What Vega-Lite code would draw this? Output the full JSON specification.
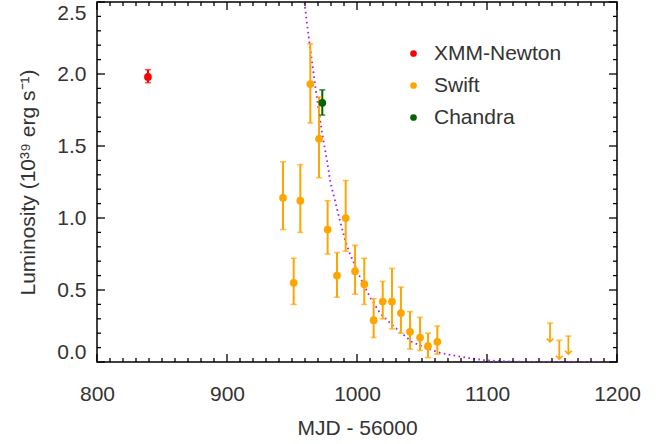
{
  "$schema": "https://vega.github.io/schema/vega-lite/v6.json",
  "width": 520,
  "height": 360,
  "autosize": {"type": "none"},
  "padding": {"left": 97, "top": 2, "right": 51, "bottom": 82},
  "background": "white",
  "config": {
    "view": {"stroke": "black", "strokeWidth": 1.5},
    "font": "Liberation Sans",
    "axis": {"grid": false, "domain": false, "tickOpacity": 0, "labelColor": "#333", "titleColor": "#333", "labelFont": "Liberation Sans", "titleFont": "Liberation Sans", "labelFontSize": 21, "titleFontSize": 21, "titleFontWeight": "normal", "labelOverlap": false}
  },
  "datasets": {
    "obs": [
      {"inst": "XMM-Newton", "t": 839.2, "L": 1.98, "lo": 1.94, "hi": 2.03},
      {"inst": "Chandra", "t": 973.3, "L": 1.80, "lo": 1.715, "hi": 1.89},
      {"inst": "Swift", "t": 943.1, "L": 1.14, "lo": 0.92, "hi": 1.39},
      {"inst": "Swift", "t": 951.3, "L": 0.55, "lo": 0.40, "hi": 0.72},
      {"inst": "Swift", "t": 956.4, "L": 1.12, "lo": 0.90, "hi": 1.37},
      {"inst": "Swift", "t": 964.1, "L": 1.93, "lo": 1.66, "hi": 2.21},
      {"inst": "Swift", "t": 970.8, "L": 1.55, "lo": 1.28, "hi": 1.84},
      {"inst": "Swift", "t": 977.4, "L": 0.92, "lo": 0.75, "hi": 1.12},
      {"inst": "Swift", "t": 984.6, "L": 0.60, "lo": 0.45, "hi": 0.76},
      {"inst": "Swift", "t": 991.3, "L": 1.00, "lo": 0.77, "hi": 1.26},
      {"inst": "Swift", "t": 998.5, "L": 0.63, "lo": 0.47, "hi": 0.81},
      {"inst": "Swift", "t": 1005.6, "L": 0.54, "lo": 0.40, "hi": 0.72},
      {"inst": "Swift", "t": 1012.8, "L": 0.29, "lo": 0.17, "hi": 0.44},
      {"inst": "Swift", "t": 1019.8, "L": 0.42, "lo": 0.30, "hi": 0.56},
      {"inst": "Swift", "t": 1026.9, "L": 0.42, "lo": 0.23, "hi": 0.65},
      {"inst": "Swift", "t": 1033.8, "L": 0.34, "lo": 0.20, "hi": 0.52},
      {"inst": "Swift", "t": 1040.8, "L": 0.21, "lo": 0.09, "hi": 0.35},
      {"inst": "Swift", "t": 1048.5, "L": 0.17, "lo": 0.08, "hi": 0.31},
      {"inst": "Swift", "t": 1054.6, "L": 0.11, "lo": 0.03, "hi": 0.20},
      {"inst": "Swift", "t": 1061.8, "L": 0.14, "lo": 0.055, "hi": 0.25}
    ],
    "ul": [
      {"t": 1148.5, "top": 0.27, "tip": 0.14},
      {"t": 1155.6, "top": 0.15, "tip": 0.02},
      {"t": 1162.6, "top": 0.18, "tip": 0.055}
    ],
    "model": [
      {"t": 959.5, "L": 2.50}, {"t": 962.5, "L": 2.28}, {"t": 965.9, "L": 2.05}, {"t": 969.5, "L": 1.81},
      {"t": 973.3, "L": 1.58}, {"t": 976.9, "L": 1.40}, {"t": 979.7, "L": 1.24}, {"t": 983.1, "L": 1.12},
      {"t": 986.9, "L": 0.98}, {"t": 990.8, "L": 0.85}, {"t": 994.6, "L": 0.75}, {"t": 1002.3, "L": 0.59},
      {"t": 1010.0, "L": 0.45}, {"t": 1017.7, "L": 0.34}, {"t": 1026.7, "L": 0.26}, {"t": 1034.4, "L": 0.20},
      {"t": 1042.1, "L": 0.14}, {"t": 1053.6, "L": 0.095}, {"t": 1063.8, "L": 0.064}, {"t": 1071.5, "L": 0.05},
      {"t": 1084.4, "L": 0.03}, {"t": 1097.2, "L": 0.014}, {"t": 1110.0, "L": 0.006}, {"t": 1122.8, "L": 0.002},
      {"t": 1140.0, "L": 0.0005}, {"t": 1200.0, "L": 0.0}
    ],
    "xmaj": [{"v": 800}, {"v": 900}, {"v": 1000}, {"v": 1100}, {"v": 1200}],
    "xmin": [{"v": 810},{"v": 820},{"v": 830},{"v": 840},{"v": 850},{"v": 860},{"v": 870},{"v": 880},{"v": 890},
             {"v": 910},{"v": 920},{"v": 930},{"v": 940},{"v": 950},{"v": 960},{"v": 970},{"v": 980},{"v": 990},
             {"v": 1010},{"v": 1020},{"v": 1030},{"v": 1040},{"v": 1050},{"v": 1060},{"v": 1070},{"v": 1080},{"v": 1090},
             {"v": 1110},{"v": 1120},{"v": 1130},{"v": 1140},{"v": 1150},{"v": 1160},{"v": 1170},{"v": 1180},{"v": 1190}],
    "ymaj": [{"v": 0}, {"v": 0.5}, {"v": 1.0}, {"v": 1.5}, {"v": 2.0}, {"v": 2.5}],
    "ymin": [{"v": 0.1},{"v": 0.2},{"v": 0.3},{"v": 0.4},{"v": 0.6},{"v": 0.7},{"v": 0.8},{"v": 0.9},
             {"v": 1.1},{"v": 1.2},{"v": 1.3},{"v": 1.4},{"v": 1.6},{"v": 1.7},{"v": 1.8},{"v": 1.9},
             {"v": 2.1},{"v": 2.2},{"v": 2.3},{"v": 2.4}]
  },
  "layer": [
    {
      "data": {"name": "model"},
      "mark": {"type": "line", "clip": true, "color": "#a020f0", "strokeWidth": 1.8, "strokeDash": [1.6, 3.4], "strokeCap": "butt"},
      "encoding": {
        "x": {"field": "t", "type": "quantitative", "scale": {"domain": [800, 1200], "nice": false, "zero": false}, "axis": null},
        "y": {"field": "L", "type": "quantitative", "scale": {"domain": [0, 2.5], "nice": false, "zero": false}, "axis": null}
      }
    },
    {"data": {"name": "xmaj"}, "mark": {"type": "tick", "orient": "vertical", "size": 8, "thickness": 1.3, "color": "black", "opacity": 1, "yOffset": -4},
     "encoding": {"x": {"field": "v", "type": "quantitative", "axis": null}, "y": {"datum": 0, "axis": null}}},
    {"data": {"name": "xmaj"}, "mark": {"type": "tick", "orient": "vertical", "size": 8, "thickness": 1.3, "color": "black", "opacity": 1, "yOffset": 4},
     "encoding": {"x": {"field": "v", "type": "quantitative", "axis": null}, "y": {"datum": 2.5, "axis": null}}},
    {"data": {"name": "xmin"}, "mark": {"type": "tick", "orient": "vertical", "size": 4, "thickness": 1.3, "color": "black", "opacity": 1, "yOffset": -2},
     "encoding": {"x": {"field": "v", "type": "quantitative", "axis": null}, "y": {"datum": 0, "axis": null}}},
    {"data": {"name": "xmin"}, "mark": {"type": "tick", "orient": "vertical", "size": 4, "thickness": 1.3, "color": "black", "opacity": 1, "yOffset": 2},
     "encoding": {"x": {"field": "v", "type": "quantitative", "axis": null}, "y": {"datum": 2.5, "axis": null}}},
    {"data": {"name": "ymaj"}, "mark": {"type": "tick", "orient": "horizontal", "size": 8, "thickness": 1.3, "color": "black", "opacity": 1, "xOffset": 4},
     "encoding": {"y": {"field": "v", "type": "quantitative", "axis": null}, "x": {"datum": 800, "axis": null}}},
    {"data": {"name": "ymaj"}, "mark": {"type": "tick", "orient": "horizontal", "size": 8, "thickness": 1.3, "color": "black", "opacity": 1, "xOffset": -4},
     "encoding": {"y": {"field": "v", "type": "quantitative", "axis": null}, "x": {"datum": 1200, "axis": null}}},
    {"data": {"name": "ymin"}, "mark": {"type": "tick", "orient": "horizontal", "size": 4, "thickness": 1.3, "color": "black", "opacity": 1, "xOffset": 2},
     "encoding": {"y": {"field": "v", "type": "quantitative", "axis": null}, "x": {"datum": 800, "axis": null}}},
    {"data": {"name": "ymin"}, "mark": {"type": "tick", "orient": "horizontal", "size": 4, "thickness": 1.3, "color": "black", "opacity": 1, "xOffset": -2},
     "encoding": {"y": {"field": "v", "type": "quantitative", "axis": null}, "x": {"datum": 1200, "axis": null}}},
    {
      "data": {"name": "obs"},
      "mark": {"type": "rule", "strokeWidth": 2},
      "encoding": {
        "x": {"field": "t", "type": "quantitative", "axis": null},
        "y": {"field": "lo", "type": "quantitative", "axis": null},
        "y2": {"field": "hi"},
        "color": {"field": "inst", "type": "nominal", "legend": null}
      }
    },
    {
      "data": {"name": "obs"},
      "mark": {"type": "tick", "orient": "horizontal", "size": 6, "thickness": 1.6},
      "encoding": {
        "x": {"field": "t", "type": "quantitative", "axis": null},
        "y": {"field": "lo", "type": "quantitative", "axis": null},
        "color": {"field": "inst", "type": "nominal", "legend": null}
      }
    },
    {
      "data": {"name": "obs"},
      "mark": {"type": "tick", "orient": "horizontal", "size": 6, "thickness": 1.6},
      "encoding": {
        "x": {"field": "t", "type": "quantitative", "axis": null},
        "y": {"field": "hi", "type": "quantitative", "axis": null},
        "color": {"field": "inst", "type": "nominal", "legend": null}
      }
    },
    {
      "data": {"name": "ul"},
      "mark": {"type": "rule", "strokeWidth": 1.8, "color": "#ffa500"},
      "encoding": {
        "x": {"field": "t", "type": "quantitative", "axis": null},
        "y": {"field": "top", "type": "quantitative", "axis": null},
        "y2": {"field": "tip"}
      }
    },
    {
      "data": {"name": "ul"},
      "mark": {"type": "tick", "orient": "horizontal", "size": 6, "thickness": 1.6, "color": "#ffa500"},
      "encoding": {
        "x": {"field": "t", "type": "quantitative", "axis": null},
        "y": {"field": "top", "type": "quantitative", "axis": null}
      }
    },
    {
      "data": {"name": "ul"},
      "mark": {"type": "point", "shape": "M-1,-1L0,0L1,-1", "filled": false, "size": 45, "strokeWidth": 1.6, "color": "#ffa500", "opacity": 1},
      "encoding": {
        "x": {"field": "t", "type": "quantitative", "axis": null},
        "y": {"field": "tip", "type": "quantitative", "axis": null}
      }
    },
    {
      "data": {"name": "obs"},
      "mark": {"type": "point", "shape": "circle", "filled": true, "size": 60, "opacity": 1},
      "encoding": {
        "x": {"field": "t", "type": "quantitative", "title": "MJD - 56000",
          "axis": {"orient": "bottom",
            "values": [800, 900, 1000, 1100, 1200],
            "format": "d",
            "tickSize": 8,
            "labelPadding": 13, "labelFlush": false, "titleY": 66, "titleBaseline": "middle"}},
        "y": {"field": "L", "type": "quantitative", "title": "Luminosity (10³⁹ erg s⁻¹)",
          "axis": {"orient": "left",
            "values": [0, 0.5, 1.0, 1.5, 2.0, 2.5],
            "format": ".1f",
            "tickSize": -8,
            "labelPadding": 19, "labelFlush": true, "titleX": -69, "titleY": 180, "titleAngle": -90, "titleAlign": "center", "titleBaseline": "middle"}},
        "color": {"field": "inst", "type": "nominal",
          "scale": {"domain": ["XMM-Newton", "Swift", "Chandra"], "range": ["#ff0000", "#ffa500", "#006400"]},
          "legend": {"orient": "none", "legendX": 306, "legendY": 41, "title": null, "symbolType": "circle", "symbolSize": 45, "symbolStrokeWidth": 0, "labelFontSize": 21, "labelColor": "#333", "labelFont": "Liberation Sans", "labelOffset": 10, "rowPadding": 10, "padding": 0}}
      }
    }
  ],
  "resolve": {"axis": {"x": "independent", "y": "independent"}, "legend": {"color": "independent"}}
}
